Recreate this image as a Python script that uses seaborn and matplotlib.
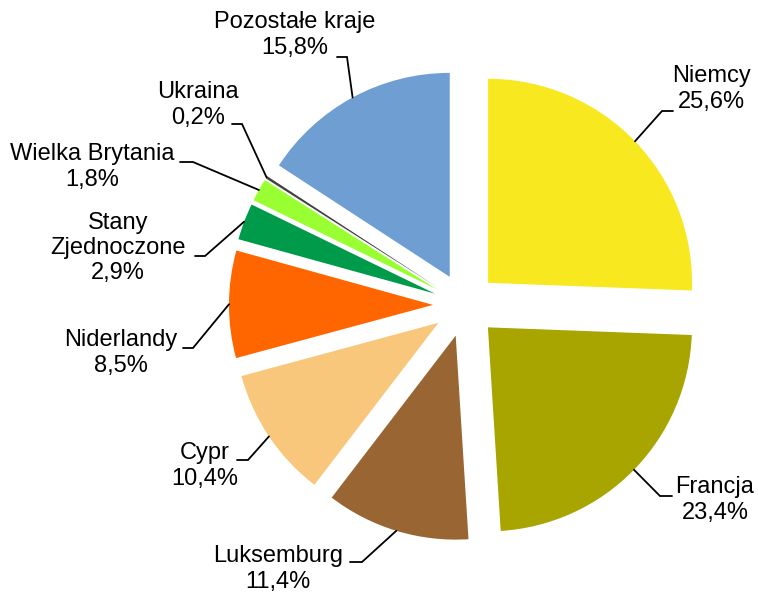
import matplotlib
matplotlib.use('Agg')
import matplotlib.pyplot as plt
import seaborn as sns
import numpy as np

# data (share of total, %)
countries = ['Niemcy', 'Francja', 'Luksemburg', 'Cypr', 'Niderlandy',
             'Stany\nZjednoczone', 'Wielka Brytania', 'Ukraina', 'Pozostałe kraje']
shares = [25.6, 23.4, 11.4, 10.4, 8.5, 2.9, 1.8, 0.2, 15.8]
colors = ['#F7E820', '#A8A400', '#996633', '#F9C77B', '#FF6600',
          '#009B4A', '#99FF33', '#404040', '#6F9FD2']

# label layout in image pixels: text centre, knee of leader line, end of horizontal tick
W, H = 758, 592
text_pos = [(711, 89), (715, 500), (278, 569), (205, 466), (121, 353),
            (118, 248), (92, 167), (198, 105), (295, 35)]
knees = [(662, 111), (660, 496), (362, 562), (248, 460), (193, 348),
         (205, 256), (193, 162), (242, 124), (347, 57)]
tick_ends = [673, 672, 350, 237, 183, 195, 180, 232, 337]

sns.set_theme(style='white')
plt.rcParams['font.family'] = ['Liberation Sans', 'DejaVu Sans']

fig = plt.figure(figsize=(W / 100, H / 100), dpi=100)
ax = fig.add_axes([0, 0, 1, 1])

wedges, _ = ax.pie(shares, colors=colors, startangle=90, counterclock=False,
                   center=(465, H - 305), radius=204,
                   explode=[32] * len(shares),
                   wedgeprops={'linewidth': 0})

ax.set_xlim(0, W)
ax.set_ylim(0, H)
ax.set_aspect('equal')
ax.axis('off')

for w, name, val, (tx, ty), (kx, ky), ex in zip(wedges, countries, shares,
                                                 text_pos, knees, tick_ends):
    # point on the outer arc at the middle of the wedge
    ang = np.deg2rad((w.theta1 + w.theta2) / 2)
    cx, cy = w.center
    px = cx + w.r * np.cos(ang)
    py = cy + w.r * np.sin(ang)
    ax.plot([px, kx, ex], [py, H - ky, H - ky], color='black', lw=1.3,
            solid_joinstyle='miter')
    label = f"{name}\n{val:.1f}%".replace('.', ',')
    ax.text(tx, H - ty, label, ha='center', va='center', fontsize=17,
            multialignment='center', color='black')

plt.savefig('out.png', dpi=100)
plt.close()
